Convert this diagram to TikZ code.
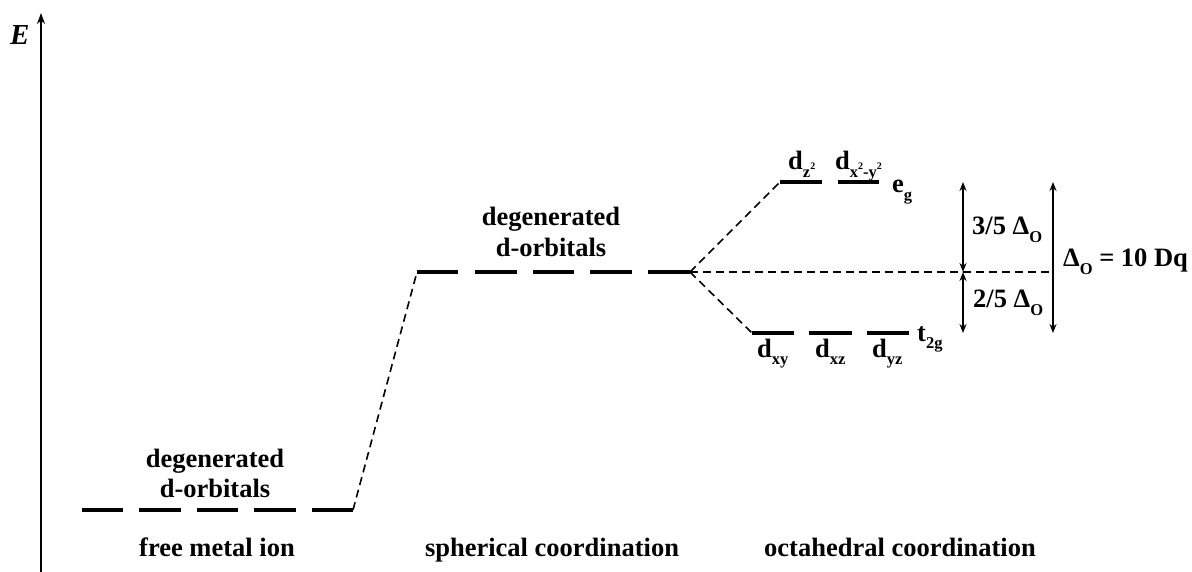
\documentclass[tikz,border=0pt]{standalone}
\usepackage{fontspec}
\setmainfont{Liberation Serif}
\usetikzlibrary{arrows.meta}
\newcommand{\sub}[1]{\raisebox{-0.28em}{\fontsize{16.5}{16.5}\selectfont #1}}
\newcommand{\supr}[1]{\raisebox{0.45em}{\fontsize{10}{10}\selectfont #1}}
\begin{document}
\begin{tikzpicture}[x=1pt,y=-1pt,
  lbl/.style={font=\fontsize{26.5}{32}\selectfont\bfseries, inner sep=0pt, anchor=base},
  lblw/.style={font=\fontsize{26.5}{32}\selectfont\bfseries, inner sep=0pt, anchor=base west},
  level/.style={line width=3.2pt},
  conn/.style={line width=1.6pt, dash pattern=on 8pt off 5pt},
  arr/.style={line width=1.8pt, {Stealth[length=9pt,width=7pt]}-{Stealth[length=9pt,width=7pt]}},
]
\useasboundingbox (0,0) rectangle (1192,572);
% energy axis
\coordinate (ax0) at (41,572);
\coordinate (ax1) at (41,13);
\draw[line width=1.8pt, -{Stealth[length=11pt,width=8pt]}] (ax0) -- (ax1);
\node[lblw, font=\fontsize{29}{32}\selectfont\bfseries\itshape] (E) at (10,45) {E};

% free metal ion levels
\foreach \i/\a/\b in {1/82/123, 2/139/181, 3/197/238, 4/254/296, 5/312/353} {
  \coordinate (f\i a) at (\a,510); \coordinate (f\i b) at (\b,510);
  \draw[level] (f\i a) -- (f\i b);
}
% spherical levels
\foreach \i/\a/\b in {1/417/458, 2/475/517, 3/533/574, 4/590/632, 5/648/690} {
  \coordinate (s\i a) at (\a,272); \coordinate (s\i b) at (\b,272);
  \draw[level] (s\i a) -- (s\i b);
}
% eg levels
\coordinate (eg1a) at (780,182); \coordinate (eg1b) at (822,182);
\coordinate (eg2a) at (838,182); \coordinate (eg2b) at (879,182);
\draw[level] (eg1a) -- (eg1b);
\draw[level] (eg2a) -- (eg2b);
% t2g levels
\coordinate (t1a) at (752,333); \coordinate (t1b) at (794,333);
\coordinate (t2a) at (809,333); \coordinate (t2b) at (852,333);
\coordinate (t3a) at (867,333); \coordinate (t3b) at (909,333);
\draw[level] (t1a) -- (t1b);
\draw[level] (t2a) -- (t2b);
\draw[level] (t3a) -- (t3b);

% connectors
\draw[conn] (f5b) -- (s1a);
\draw[conn] (s5b) -- (eg1a);
\draw[conn] (s5b) -- (t1a);
\coordinate (bary) at (1053,272);
\draw[conn] (s5b) -- (bary);

% splitting arrows
\coordinate (a1t) at (963,182); \coordinate (a1m) at (963,272); \coordinate (a1b) at (963,333);
\draw[arr] (a1t) -- (a1m);
\draw[arr] (a1m) -- (a1b);
\coordinate (a2t) at (1053,182); \coordinate (a2b) at (1053,333);
\draw[arr] (a2t) -- (a2b);

% labels
\node[lbl] (lf1) at (215,467) {degenerated};
\node[lbl] (lf2) at (215,497) {d-orbitals};
\node[lbl] (ls1) at (551,226) {degenerated};
\node[lbl] (ls2) at (551,257) {d-orbitals};
\node[lbl] (bf) at (217,556) {free metal ion};
\node[lbl] (bs) at (552,556) {spherical coordination};
\node[lbl] (bo) at (900,556) {octahedral coordination};

\node[lblw] (dz) at (788,170) {d\sub{z\supr{2}}};
\node[lblw] (dx) at (835,170) {d\sub{x\supr{2}-y\supr{2}}};
\node[lblw] (eg) at (892,193) {e\sub{g}};
\node[lblw] (dxy) at (757,357) {d\sub{xy}};
\node[lblw] (dxz) at (815,357) {d\sub{xz}};
\node[lblw] (dyz) at (872,357) {d\sub{yz}};
\node[lblw] (t2g) at (917,341) {t\sub{2g}};

\node[lblw] (l35) at (972,235) {3/5 Δ\sub{O}};
\node[lblw] (l25) at (973,308) {2/5 Δ\sub{O}};
\node[lblw] (l10) at (1063,267) {Δ\sub{O} = 10 Dq};
\end{tikzpicture}
\end{document}
